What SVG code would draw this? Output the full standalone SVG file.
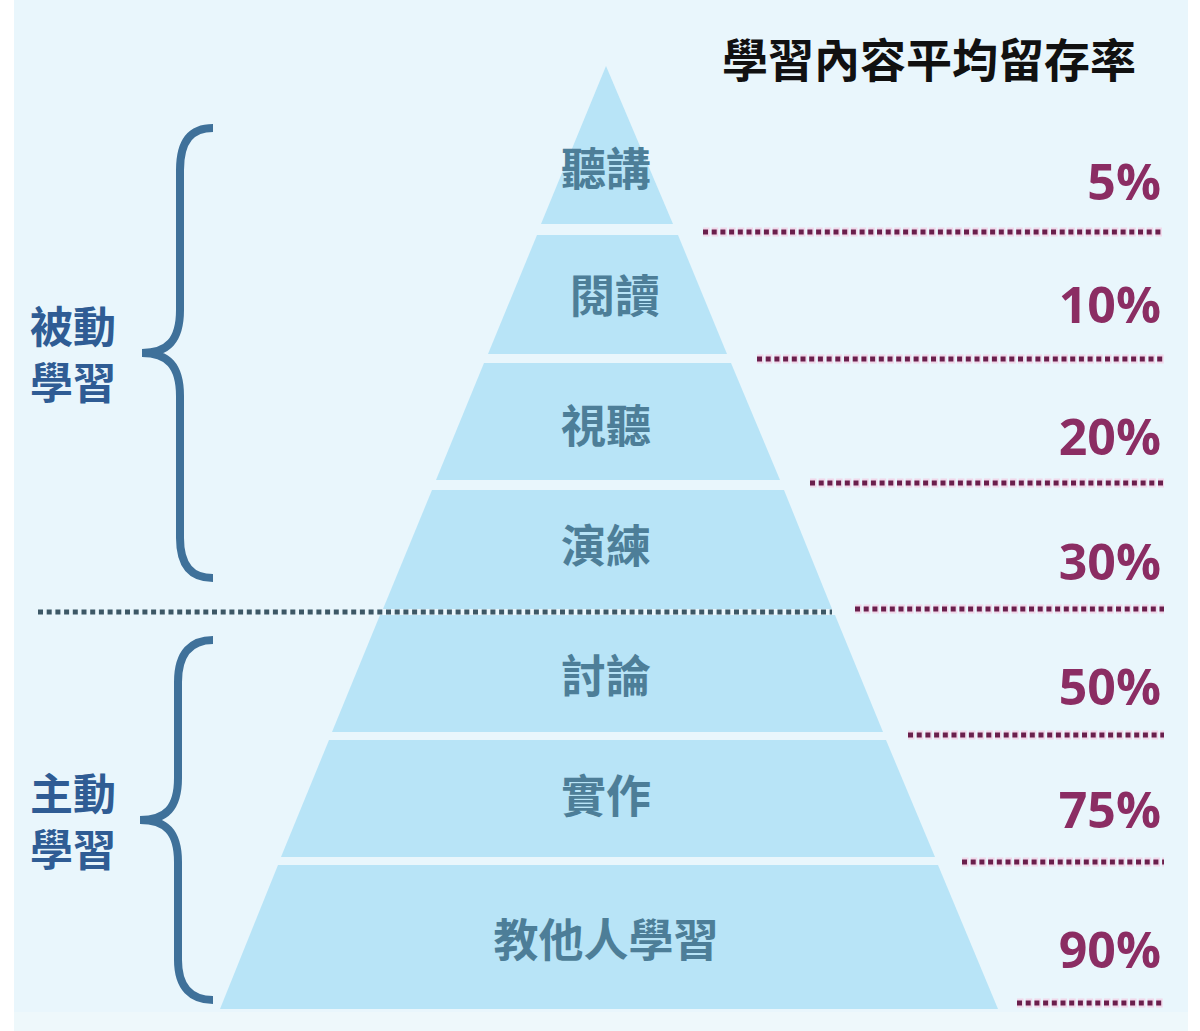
<svg xmlns="http://www.w3.org/2000/svg" width="1200" height="1031" viewBox="0 0 1200 1031">
<style>
.bg{fill:#E9F6FC}
.seg{fill:#B8E4F7}
.lbl{font-family:"Noto Sans CJK TC","Noto Sans CJK SC",sans-serif;font-weight:700;font-size:45px;fill:#4D7E98;text-anchor:middle}
.side{font-family:"Noto Sans CJK TC","Noto Sans CJK SC",sans-serif;font-weight:700;font-size:43px;fill:#2F5C94}
.pct{font-family:"Open Sans","Noto Sans",sans-serif;font-weight:700;font-size:50px;fill:#8B2D63;text-anchor:end}
.title{font-family:"Noto Sans CJK TC","Noto Sans CJK SC",sans-serif;font-weight:700;font-size:46px;fill:#111111}
.brace{fill:none;stroke:#3F719A;stroke-width:8;stroke-linecap:butt}
.halo{stroke:#F6C3DE;stroke-width:9;stroke-dasharray:6.5 2.2;opacity:0.6}
.pink{stroke:#6A1F4C;stroke-width:5;stroke-dasharray:5 3.7}
.dark{stroke:#3D5866;stroke-width:5;stroke-dasharray:5 3.7}
</style>
<rect x="0" y="0" width="1200" height="1031" fill="#FFFFFF"/>
<rect class="bg" x="14" y="0" width="1174" height="1031"/>
<rect x="14" y="1012" width="1174" height="19" fill="#EEF8FB"/>

<g id="title"><text class="title" x="722" y="77">學習內容平均留存率</text></g>

<g id="seg1"><polygon class="seg" points="606,66 673,224 541,224"/><text class="lbl" x="606" y="186">聽講</text></g>
<g id="seg2"><polygon class="seg" points="537,235 678,235 727,354 488,354"/><text class="lbl" x="615" y="313">閱讀</text></g>
<g id="seg3"><polygon class="seg" points="484,363 731,363 780,480 436,480"/><text class="lbl" x="606" y="443">視聽</text></g>
<g id="seg4"><polygon class="seg" points="432,490 784,490 832,609 383,609"/><text class="lbl" x="606" y="563">演練</text></g>
<g id="seg5"><polygon class="seg" points="380,615 835,615 883,732 332,732"/><text class="lbl" x="606" y="693">討論</text></g>
<g id="seg6"><polygon class="seg" points="329,740 886,740 935,857 281,857"/><text class="lbl" x="606" y="813">實作</text></g>
<g id="seg7"><polygon class="seg" points="278,865 938,865 998,1009 220,1009"/><text class="lbl" x="606" y="957">教他人學習</text></g>

<g id="passive">
<path class="brace" d="M213,128 C192,128 180,140 180,170 L180,310 C180,340 168,353 142,353 C168,353 180,366 180,396 L180,538 C180,566 192,578 213,578"/>
<text class="side"><tspan x="30" y="343">被動</tspan><tspan x="30" y="399">學習</tspan></text>
</g>
<g id="active">
<path class="brace" d="M213,640 C192,640 178,652 178,682 L178,778 C178,808 166,820 140,820 C166,820 178,832 178,862 L178,960 C178,988 192,1000 213,1000"/>
<text class="side"><tspan x="30" y="810">主動</tspan><tspan x="30" y="866">學習</tspan></text>
</g>

<g id="pct5"><text class="pct" x="1161" y="200">5%</text></g>
<g id="pct10"><text class="pct" x="1161" y="323">10%</text></g>
<g id="pct20"><text class="pct" x="1161" y="455">20%</text></g>
<g id="pct30"><text class="pct" x="1161" y="580">30%</text></g>
<g id="pct50"><text class="pct" x="1161" y="705">50%</text></g>
<g id="pct75"><text class="pct" x="1161" y="828">75%</text></g>
<g id="pct90"><text class="pct" x="1161" y="968">90%</text></g>

<g id="connectors">
<line class="halo" x1="703" y1="232" x2="1164" y2="232"/>
<line class="pink" x1="703" y1="232" x2="1164" y2="232"/>
<line class="halo" x1="757" y1="359" x2="1164" y2="359"/>
<line class="pink" x1="757" y1="359" x2="1164" y2="359"/>
<line class="halo" x1="810" y1="483" x2="1164" y2="483"/>
<line class="pink" x1="810" y1="483" x2="1164" y2="483"/>
<line class="halo" x1="855" y1="609" x2="1164" y2="609"/>
<line class="pink" x1="855" y1="609" x2="1164" y2="609"/>
<line class="halo" x1="908" y1="735" x2="1164" y2="735"/>
<line class="pink" x1="908" y1="735" x2="1164" y2="735"/>
<line class="halo" x1="962" y1="862" x2="1164" y2="862"/>
<line class="pink" x1="962" y1="862" x2="1164" y2="862"/>
<line class="halo" x1="1017" y1="1003" x2="1164" y2="1003"/>
<line class="pink" x1="1017" y1="1003" x2="1164" y2="1003"/>
<line class="dark" x1="38" y1="612" x2="832" y2="612"/>
</g>
</svg>
